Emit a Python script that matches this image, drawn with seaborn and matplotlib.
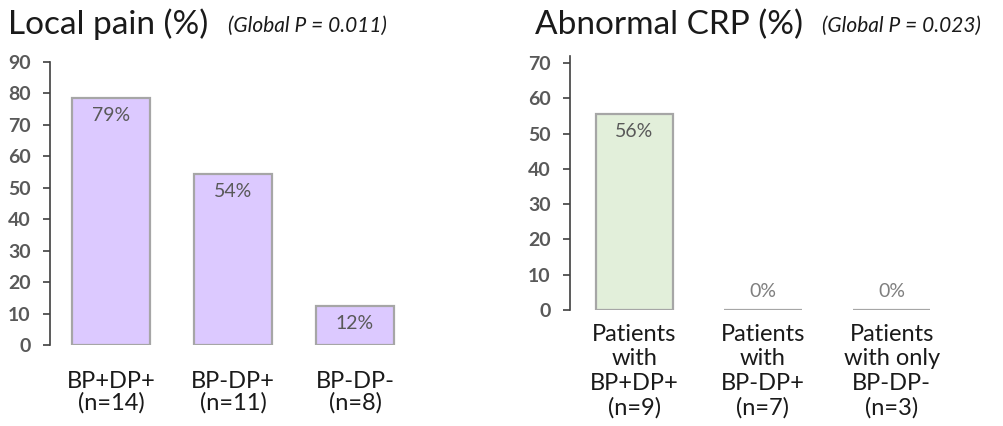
import matplotlib
matplotlib.use("Agg")
import matplotlib.pyplot as plt
import seaborn as sns
import pandas as pd

# values
pain_groups = ["BP+DP+\n(n=14)", "BP-DP+\n(n=11)", "BP-DP-\n(n=8)"]
pain_values = [78.6, 54.5, 12.5]
pain_labels = ["79%", "54%", "12%"]

crp_groups = ["Patients\nwith\nBP+DP+\n(n=9)", "Patients\nwith\nBP-DP+\n(n=7)",
              "Patients\nwith only\nBP-DP-\n(n=3)"]
crp_values = [55.6, 0, 0]
crp_labels = ["56%", "0%", "0%"]

sns.set_style("white")
plt.rcParams['font.family'] = ['Lato', 'DejaVu Sans']

fig = plt.figure(figsize=(10.04, 4.26), dpi=100)

# left panel
ax1 = fig.add_axes([50 / 1004, 81 / 426, 366 / 1004, 283 / 426])
df1 = pd.DataFrame({"group": pain_groups, "value": pain_values})
sns.barplot(data=df1, x="group", y="value", ax=ax1, color="#DCC9FF",
            edgecolor="#A6A6A6", linewidth=1.6, width=0.64, saturation=1)
ax1.set_ylim(0, 90)
ax1.set_yticks(range(0, 91, 10))
ax1.tick_params(axis="x", length=0, pad=19, labelsize=17, labelcolor="#1a1a1a")
for t in ax1.get_xticklabels():
    t.set_linespacing(1.0)
for i, (v, lab) in enumerate(zip(pain_values, pain_labels)):
    ax1.annotate(lab, (i, v), xytext=(0, -13), textcoords="offset points",
                 ha="center", va="center", fontsize=14, color="#595959")

# right panel
ax2 = fig.add_axes([570 / 1004, 116 / 426, 386 / 1004, 254 / 426])
df2 = pd.DataFrame({"group": crp_groups, "value": crp_values})
sns.barplot(data=df2, x="group", y="value", ax=ax2, color="#E2EFDA",
            edgecolor="#A6A6A6", linewidth=1.6, width=0.6, saturation=1)
ax2.set_ylim(0, 72)
ax2.set_yticks(range(0, 71, 10))
ax2.tick_params(axis="x", length=0, pad=10, labelsize=17, labelcolor="#1a1a1a")
for t in ax2.get_xticklabels():
    t.set_linespacing(1.2)
for i, (v, lab) in enumerate(zip(crp_values, crp_labels)):
    off = -13 if v > 0 else 13
    ax2.annotate(lab, (i, v), xytext=(0, off), textcoords="offset points",
                 ha="center", va="center", fontsize=14,
                 color="#7f7f7f" if v == 0 else "#595959")

for ax in (ax1, ax2):
    ax.set_xlim(-0.5, 2.5)
    ax.set_xlabel("")
    ax.set_ylabel("")
    sns.despine(ax=ax, bottom=True)
    ax.spines["left"].set_color("#404040")
    ax.spines["left"].set_linewidth(1.2)
    ax.tick_params(axis="y", left=True, direction="out", length=5, width=1.2,
                   color="#404040", labelsize=14, labelcolor="#595959", pad=9)
    for t in ax.get_yticklabels():
        t.set_fontweight("bold")
    ax.grid(False)

# titles
fig.text(8 / 1004, 1 - 34 / 426, "Local pain (%)", fontsize=24, color="#1a1a1a")
fig.text(228 / 1004, 1 - 32 / 426, "(Global P = 0.011)", fontsize=15, style="italic",
         color="#1a1a1a")
fig.text(535 / 1004, 1 - 34 / 426, "Abnormal CRP (%)", fontsize=24, color="#1a1a1a")
fig.text(822 / 1004, 1 - 32 / 426, "(Global P = 0.023)", fontsize=15, style="italic",
         color="#1a1a1a")

fig.savefig("out.png", dpi=100)
